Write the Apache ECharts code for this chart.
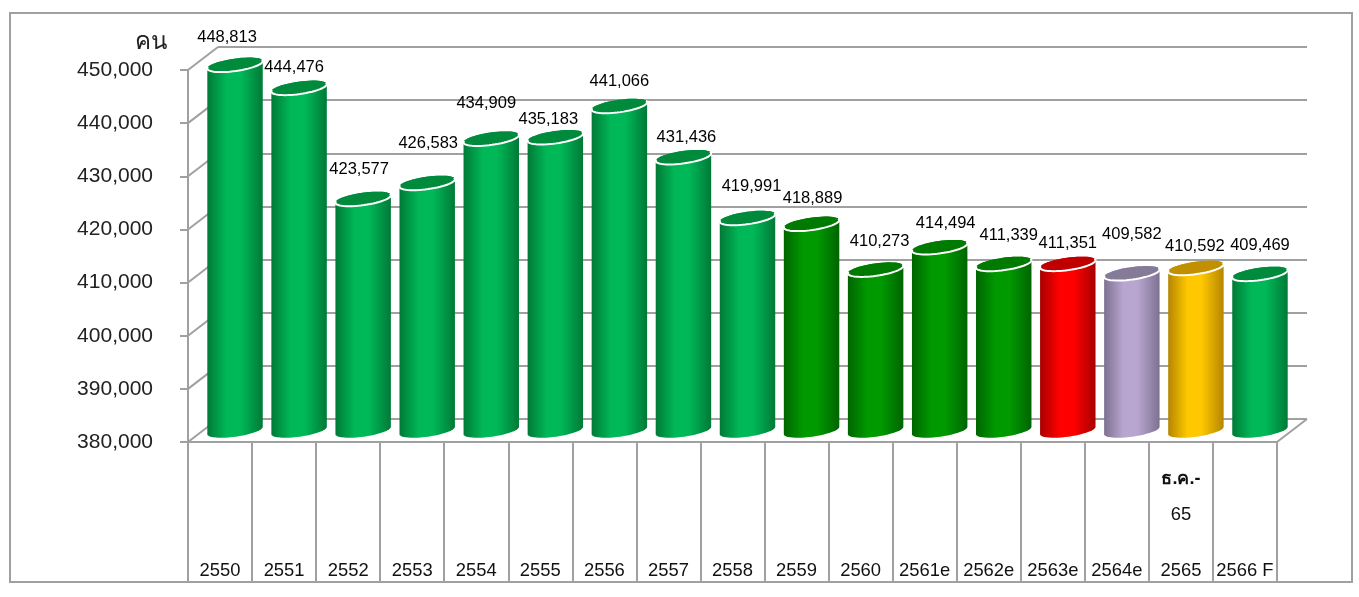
<!DOCTYPE html>
<html>
<head>
<meta charset="utf-8">
<style>html,body{margin:0;padding:0;background:#fff}#c{width:1359px;height:597px}</style>
<script src="https://cdn.jsdelivr.net/npm/echarts@6/dist/echarts.min.js"></script>
</head>
<body>
<div id="c"></div>
<script>
const categories = ['2550','2551','2552','2553','2554','2555','2556','2557','2558','2559','2560','2561e','2562e','2563e','2564e','ธ.ค.-\n65\n2565','2566 F'];
const values = [448813,444476,423577,426583,434909,435183,441066,431436,419991,418889,410273,414494,411339,411351,409582,410592,409469];
const yTicks = [380000,390000,400000,410000,420000,430000,440000,450000];

// appearance, per bar: [side edge, side centre, top cap]
const G = ['#007a37','#00b858','#008a3c'], D = ['#006400','#009a00','#007a00'];
const R = ['#a80000','#ff0000','#c00000'], P = ['#7d7190','#b8a6d0','#857a98'], Y = ['#b58600','#ffc800','#c09000'];
const looks = [G,G,G,G,G,G,G,G,G,D,D,D,D,R,P,Y,G];
// hand placement of each value label relative to the cap centre
const nudge = [[-8,-27],[-5,-20],[-4,-29],[1,-39],[-5,-35],[-7,-18],[0,-25],[3,-20],[4,-32],[1,-25],[4,-28],[6,-24],[5,-29],[0,-20],[0,-39],[-1,-21],[0,-28]];

const FONT = '"Liberation Sans","Noto Sans",sans-serif';
const GREY = '#a0a0a0';
const DEPTH_X = 30, DEPTH_Y = -23, RX = 28, RY = 6.2, TILT = 8 * Math.PI / 180;

function ellipsePt(cx, cy, t) {
  const x = RX * Math.cos(t), y = RY * Math.sin(t);
  return [cx + x * Math.cos(TILT) + y * Math.sin(TILT), cy - x * Math.sin(TILT) + y * Math.cos(TILT)];
}
function arc(cx, cy, from, to, n) {
  const out = [];
  for (let k = 0; k <= n; k++) out.push(ellipsePt(cx, cy, from + (to - from) * k / n));
  return out;
}

function renderBar(params, api) {
  const i = api.value(0), v = api.value(1);
  const top = api.coord([i, v]), base = api.coord([i, yTicks[0]]);
  const cx = top[0] + DEPTH_X / 2, ty = top[1] + DEPTH_Y / 2, by = base[1] + DEPTH_Y / 2;
  const look = looks[i];
  const grad = {type:'linear',x:0,y:0,x2:1,y2:0,colorStops:[
    {offset:0,color:look[0]},{offset:0.35,color:look[1]},{offset:0.6,color:look[1]},{offset:1,color:look[0]}]};
  return {type:'group',children:[
    {type:'polygon',shape:{points:arc(cx, ty, Math.PI, 2 * Math.PI, 24).concat(arc(cx, by, 0, Math.PI, 24))},style:{fill:grad}},
    {type:'polygon',shape:{points:arc(cx, ty, 0, 2 * Math.PI, 48)},style:{fill:look[2]}},
    {type:'polyline',shape:{points:arc(cx, ty, -0.25, Math.PI + 0.25, 32)},style:{stroke:'#ffffff',lineWidth:2,fill:'none'}},
    {type:'text',z2:50,style:{x:cx + nudge[i][0],y:ty + nudge[i][1],text:v.toLocaleString('en-US'),textAlign:'center',textVerticalAlign:'middle',font:'16.5px ' + FONT,fill:'#000'}}
  ]};
}

function renderWall(params, api) {
  const p = api.coord([0, api.value(0)]);
  const left = p[0] - api.size([1,0])[0] / 2;
  return {type:'line',shape:{x1:left,y1:p[1],x2:left + DEPTH_X,y2:p[1] + DEPTH_Y},style:{stroke:GREY,lineWidth:2}};
}
function renderFloorEdge(params, api) {
  const p = api.coord([categories.length - 1, yTicks[0]]);
  const right = p[0] + api.size([1,0])[0] / 2;
  return {type:'line',shape:{x1:right,y1:p[1],x2:right + DEPTH_X,y2:p[1] + DEPTH_Y},style:{stroke:GREY,lineWidth:2}};
}
function categoryLabel(name) {
  const rows = name.split('\n');
  if (rows.length === 1) return '{year|' + name + '}';
  return '{first|' + rows[0] + '}\n{second|' + rows[1] + '}\n{year|' + rows[2] + '}';
}

const chart = echarts.init(document.getElementById('c'));
chart.setOption({
  animation:false,
  backgroundColor:'#fff',
  textStyle:{fontFamily:FONT},
  graphic:[
    {type:'rect',z:-10,shape:{x:10,y:13,width:1342,height:569},style:{fill:'none',stroke:GREY,lineWidth:2}},
    {type:'text',left:135,top:28,style:{text:'คน',font:'24px "Noto Sans CJK SC","Noto Sans",sans-serif',fill:'#222'}}
  ],
  grid:[
    {left:188,top:70,width:1089,height:372},
    {left:188 + DEPTH_X,top:70 + DEPTH_Y,width:1089,height:372}
  ],
  xAxis:[
    {type:'category',gridIndex:0,data:categories,
      axisLine:{lineStyle:{color:GREY,width:2}},
      axisTick:{show:true,length:140,alignWithLabel:false,lineStyle:{color:GREY,width:2}},
      axisLabel:{interval:0,color:'#111',fontFamily:FONT,verticalAlign:'bottom',margin:167,formatter:categoryLabel,
        rich:{
          first:{fontSize:18,fontWeight:'bold',lineHeight:36,color:'#111',fontFamily:FONT},
          second:{fontSize:18.4,lineHeight:36,color:'#111',fontFamily:FONT},
          year:{fontSize:18.4,lineHeight:76,color:'#111',fontFamily:FONT}
        }}},
    {type:'category',gridIndex:1,data:categories,show:false}
  ],
  yAxis:[
    {type:'value',gridIndex:0,min:380000,max:450000,interval:10000,
      axisLine:{show:true,lineStyle:{color:GREY,width:2}},
      axisTick:{show:true,length:8,lineStyle:{color:GREY,width:2}},
      splitLine:{show:false},
      axisLabel:{color:'#222',fontSize:21,fontFamily:FONT,margin:35,padding:[0,0,3,0],
        formatter:v => v.toLocaleString('en-US')}},
    {type:'value',gridIndex:1,min:380000,max:450000,interval:10000,
      axisLine:{show:false},axisTick:{show:false},axisLabel:{show:false},
      splitLine:{show:true,lineStyle:{color:GREY,width:2,type:'solid'}}}
  ],
  series:[
    {type:'custom',xAxisIndex:0,yAxisIndex:0,z:1,silent:true,renderItem:renderWall,data:yTicks.map(v=>[v]),encode:{y:0}},
    {type:'custom',xAxisIndex:0,yAxisIndex:0,z:1,silent:true,renderItem:renderFloorEdge,data:[[yTicks[0]]],encode:{y:0}},
    {type:'custom',xAxisIndex:0,yAxisIndex:0,z:5,silent:true,renderItem:renderBar,clip:false,
      data:values.map((v,i)=>[i,v]),encode:{x:0,y:1}}
  ]
});
</script>
</body>
</html>
